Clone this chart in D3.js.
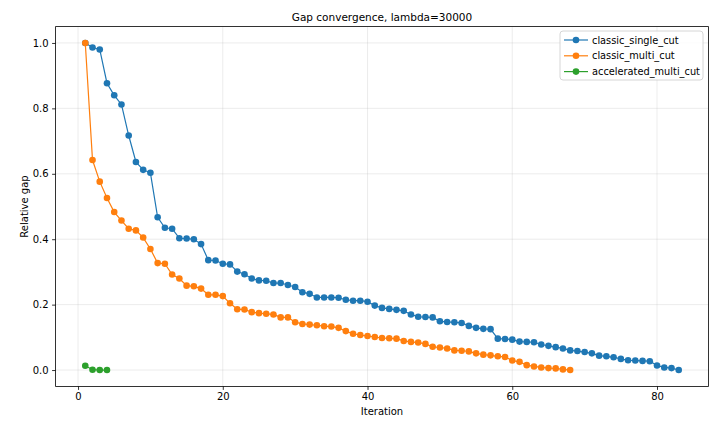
<!DOCTYPE html>
<html>
<head>
<meta charset="utf-8">
<script src="https://cdn.jsdelivr.net/npm/d3@7"></script>
<style>
  body { margin: 0; background: #fff; }
  svg { display: block; }
  text { font-family: "DejaVu Sans", sans-serif; fill: #000; }
</style>
</head>
<body>
<svg id="chart" width="713" height="422"></svg>
<script>
// Relative gap per iteration for each cutting-plane strategy
const classicSingleCut = [
  1.0, 0.986, 0.980, 0.877, 0.840, 0.812, 0.717, 0.636, 0.612, 0.603,
  0.467, 0.435, 0.432, 0.403, 0.402, 0.400, 0.385, 0.336, 0.335, 0.325,
  0.323, 0.301, 0.293, 0.280, 0.274, 0.273, 0.266, 0.266, 0.260, 0.254,
  0.238, 0.233, 0.222, 0.222, 0.222, 0.221, 0.215, 0.212, 0.212, 0.209,
  0.197, 0.190, 0.187, 0.184, 0.181, 0.170, 0.163, 0.162, 0.161, 0.149,
  0.147, 0.146, 0.144, 0.135, 0.129, 0.126, 0.125, 0.096, 0.095, 0.093,
  0.087, 0.086, 0.085, 0.078, 0.074, 0.070, 0.066, 0.060, 0.058, 0.055,
  0.051, 0.044, 0.042, 0.039, 0.034, 0.030, 0.029, 0.028, 0.027, 0.014,
  0.008, 0.006, 0.0
];
const classicMultiCut = [
  1.0, 0.642, 0.576, 0.526, 0.483, 0.457, 0.432, 0.427, 0.405, 0.370,
  0.327, 0.325, 0.292, 0.280, 0.258, 0.256, 0.249, 0.230, 0.230, 0.226,
  0.204, 0.186, 0.185, 0.177, 0.174, 0.172, 0.170, 0.161, 0.161, 0.146,
  0.141, 0.139, 0.137, 0.134, 0.133, 0.129, 0.119, 0.111, 0.107, 0.104,
  0.101, 0.098, 0.097, 0.096, 0.089, 0.086, 0.084, 0.080, 0.071, 0.069,
  0.066, 0.060, 0.059, 0.057, 0.051, 0.047, 0.045, 0.042, 0.040, 0.029,
  0.025, 0.015, 0.011, 0.008, 0.006, 0.005, 0.002, 0.0
];
const acceleratedMultiCut = [0.013, 0.001, 0.0, 0.0];

const seriesNames = ["classic_single_cut", "classic_multi_cut", "accelerated_multi_cut"];
const seriesColors = ["#1f77b4", "#ff7f0e", "#2ca02c"];
const xTicks = [0, 20, 40, 60, 80];
const yTicks = [0.0, 0.2, 0.4, 0.6, 0.8, 1.0];

const titleText = "Gap convergence, lambda=30000";
const xLabel = "Iteration";
const yLabel = "Relative gap";

const W = 713, H = 422;
const margin = { top: 26.6, right: 4.6, bottom: 35.6, left: 55.6 };
const svg = d3.select("#chart");

const series = [classicSingleCut, classicMultiCut, acceleratedMultiCut].map((vals, i) => ({
  name: seriesNames[i],
  color: seriesColors[i],
  points: vals.map((v, k) => ({ it: k + 1, v }))
}));

const maxIt = d3.max(series, s => s.points.length);
const xPad = (maxIt - 1) * 0.05;
const x = d3.scaleLinear()
  .domain([1 - xPad, maxIt + xPad])
  .range([margin.left, W - margin.right]);
const y = d3.scaleLinear()
  .domain([-0.05, 1.05])
  .range([H - margin.bottom, margin.top]);

// grid
const grid = svg.append("g").attr("stroke", "#b0b0b0").attr("stroke-opacity", 0.3).attr("stroke-width", 0.8);
grid.selectAll("line.vx").data(xTicks).join("line")
  .attr("x1", d => x(d)).attr("x2", d => x(d))
  .attr("y1", margin.top).attr("y2", H - margin.bottom);
grid.selectAll("line.hy").data(yTicks).join("line")
  .attr("y1", d => y(d)).attr("y2", d => y(d))
  .attr("x1", margin.left).attr("x2", W - margin.right);

// series
const line = d3.line().x(d => x(d.it)).y(d => y(d.v));
series.forEach(s => {
  const g = svg.append("g");
  g.append("path").datum(s.points)
    .attr("d", line).attr("fill", "none")
    .attr("stroke", s.color).attr("stroke-width", 1.2);
  g.selectAll("circle").data(s.points).join("circle")
    .attr("cx", d => x(d.it)).attr("cy", d => y(d.v))
    .attr("r", 3.3).attr("fill", s.color);
});

// axes
const xAxis = d3.axisBottom(x).tickValues(xTicks).tickFormat(d3.format("d")).tickSize(3.5).tickPadding(3.5);
const yAxis = d3.axisLeft(y).tickValues(yTicks).tickFormat(d3.format(".1f")).tickSize(3.5).tickPadding(3.5);
const gx = svg.append("g").attr("transform", `translate(0,${H - margin.bottom})`).call(xAxis);
const gy = svg.append("g").attr("transform", `translate(${margin.left},0)`).call(yAxis);
[gx, gy].forEach(g => {
  g.select(".domain").remove();
  g.selectAll(".tick line").attr("stroke", "#000").attr("stroke-width", 0.8);
  g.selectAll(".tick text").attr("font-size", 10).attr("font-family", "DejaVu Sans").attr("fill", "#000");
});

// frame
svg.append("rect")
  .attr("x", margin.left).attr("y", margin.top)
  .attr("width", W - margin.right - margin.left)
  .attr("height", H - margin.bottom - margin.top)
  .attr("fill", "none").attr("stroke", "#000").attr("stroke-width", 0.8);

// title and labels
svg.append("text")
  .attr("x", (margin.left + W - margin.right) / 2).attr("y", 20.5)
  .attr("text-anchor", "middle").attr("font-size", 10.5)
  .text(titleText);
svg.append("text")
  .attr("x", (margin.left + W - margin.right) / 2).attr("y", 415)
  .attr("text-anchor", "middle").attr("font-size", 10)
  .text(xLabel);
svg.append("text")
  .attr("transform", `translate(28,${(margin.top + H - margin.bottom) / 2}) rotate(-90)`)
  .attr("text-anchor", "middle").attr("font-size", 10)
  .text(yLabel);

// legend
const lg = svg.append("g").attr("transform", "translate(560,31)");
lg.append("rect").attr("width", 143).attr("height", 49).attr("rx", 3)
  .attr("fill", "#fff").attr("fill-opacity", 0.8)
  .attr("stroke", "#cccccc").attr("stroke-width", 0.8);
series.forEach((s, i) => {
  const row = lg.append("g").attr("transform", `translate(0,${9 + i * 15.8})`);
  row.append("line").attr("x1", 4).attr("x2", 28).attr("y1", 0).attr("y2", 0)
    .attr("stroke", s.color).attr("stroke-width", 1.2);
  row.append("circle").attr("cx", 16).attr("cy", 0).attr("r", 3.3).attr("fill", s.color);
  row.append("text").attr("x", 32).attr("y", 3.5).attr("font-size", 9.8).text(s.name);
});
</script>
</body>
</html>
